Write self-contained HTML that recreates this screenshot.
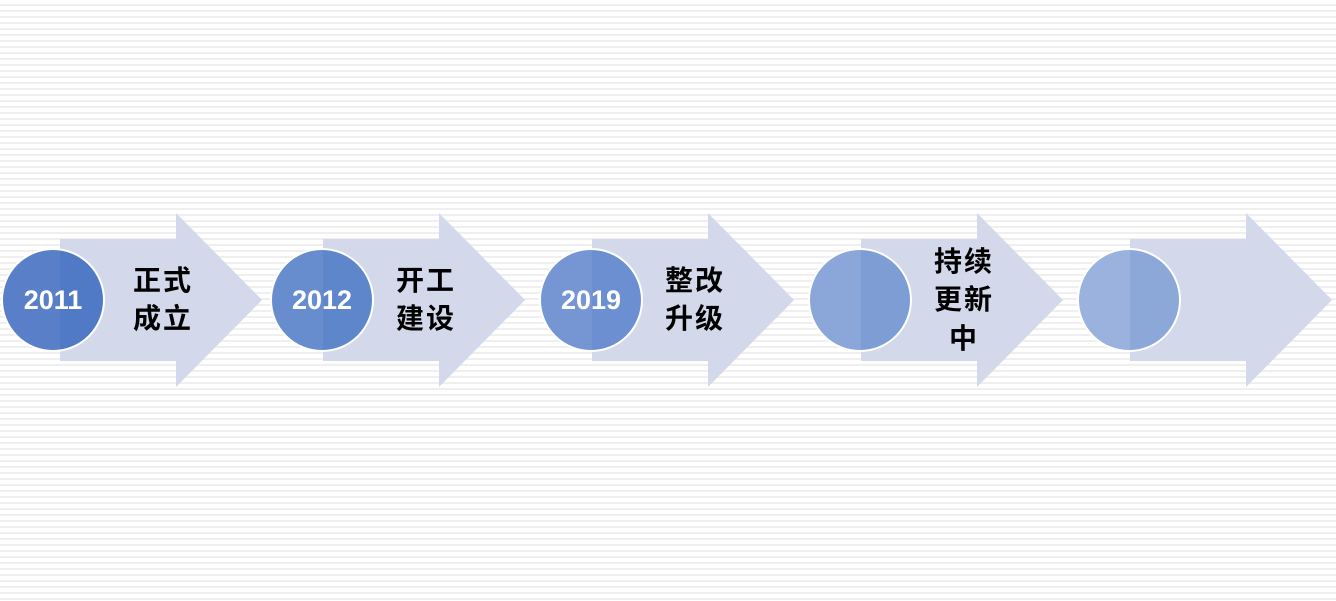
<!DOCTYPE html>
<html><head><meta charset="utf-8"><style>
html,body{margin:0;padding:0;}
body{width:1336px;height:601px;overflow:hidden;background:#fff repeating-linear-gradient(to bottom,#fff 0,#fff 4px,#efefef 4px,#efefef 6px);}
svg{position:absolute;left:0;top:0;}
</style></head><body>
<svg width="1336" height="601" xmlns="http://www.w3.org/2000/svg">
<defs>
<g id="arr"><polygon points="0,239 116,239 116,213 202,300 116,387 116,361 0,361" fill="#d3d8eb"/></g>
<clipPath id="c1"><circle cx="53" cy="300" r="50"/></clipPath>
<clipPath id="c2"><circle cx="322" cy="300" r="50"/></clipPath>
<clipPath id="c3"><circle cx="591" cy="300" r="50"/></clipPath>
<clipPath id="c4"><circle cx="860" cy="300" r="50"/></clipPath>
<clipPath id="c5"><circle cx="1129" cy="300" r="50"/></clipPath>
</defs>
<use href="#arr" x="60"/>
<use href="#arr" x="323"/>
<use href="#arr" x="592"/>
<use href="#arr" x="861"/>
<use href="#arr" x="1130"/>
<g stroke="#fff" stroke-width="2">
<circle cx="53" cy="300" r="51" fill="#5079c6"/>
<circle cx="322" cy="300" r="51" fill="#5e86cb"/>
<circle cx="591" cy="300" r="51" fill="#6b8fd0"/>
<circle cx="860" cy="300" r="51" fill="#7e9dd5"/>
<circle cx="1129" cy="300" r="51" fill="#8ca8d9"/>
</g>
<g fill="#fff">
<rect x="0" y="240" width="60" height="120" clip-path="url(#c1)" opacity="0.05"/>
<rect x="260" y="240" width="63" height="120" clip-path="url(#c2)" opacity="0.06"/>
<rect x="530" y="240" width="62" height="120" clip-path="url(#c3)" opacity="0.07"/>
<rect x="800" y="240" width="61" height="120" clip-path="url(#c4)" opacity="0.1"/>
<rect x="1070" y="240" width="60" height="120" clip-path="url(#c5)" opacity="0.12"/>
</g>
<g font-family="Liberation Sans, sans-serif" font-weight="bold" font-size="27" fill="#fff" text-anchor="middle">
<text x="53" y="309">2011</text>
<text x="322" y="309">2012</text>
<text x="591" y="309">2019</text>
</g>
<g font-family="'Liberation Sans','Noto Sans CJK SC',sans-serif" font-weight="bold" font-size="28" fill="#000" text-anchor="middle" letter-spacing="2">
<text x="163" y="290">正式</text><text x="163" y="328">成立</text>
<text x="426" y="290">开工</text><text x="426" y="328">建设</text>
<text x="695" y="290">整改</text><text x="695" y="328">升级</text>
<text x="964" y="271">持续</text><text x="964" y="309">更新</text><text x="964" y="348">中</text>
</g>
</svg>
</body></html>
